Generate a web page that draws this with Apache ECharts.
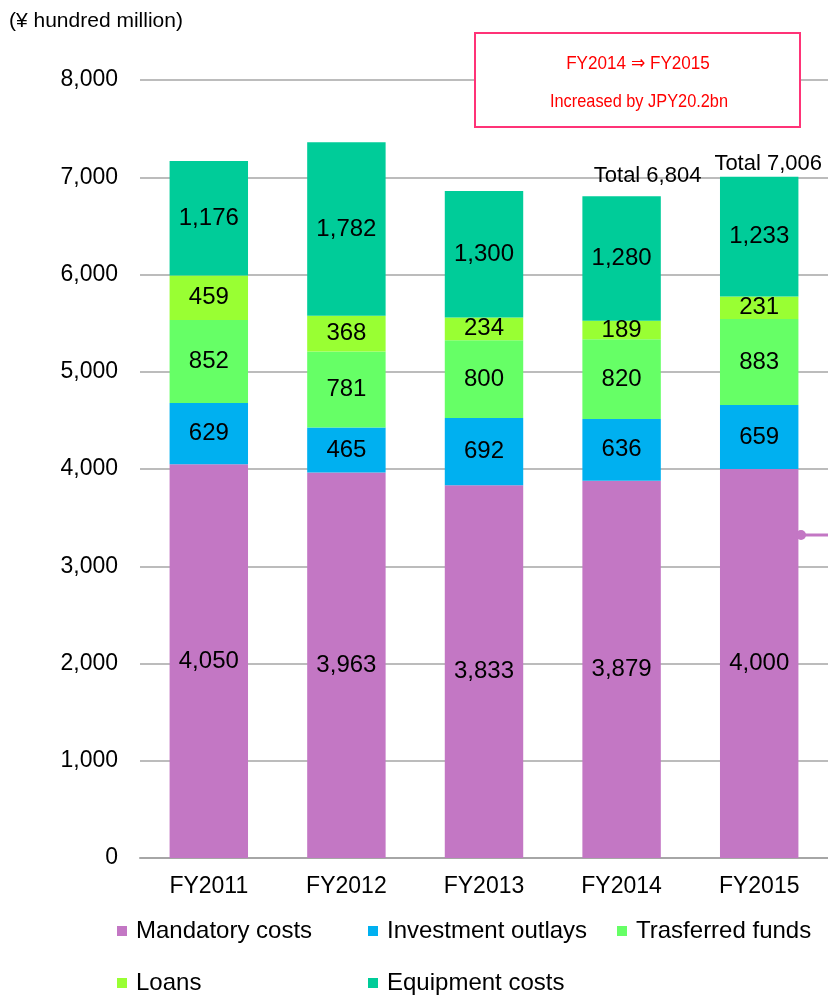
<!DOCTYPE html>
<html>
<head>
<meta charset="utf-8">
<script src="https://cdn.jsdelivr.net/npm/echarts@6/dist/echarts.min.js"></script>
<style>
  html, body { margin: 0; padding: 0; background: #fff; }
  #chart { width: 828px; height: 995px; }
</style>
</head>
<body>
<div id="chart"></div>
<script>
  // data (¥ hundred million)
  var years = ['FY2011', 'FY2012', 'FY2013', 'FY2014', 'FY2015'];
  var mandatory = [4050, 3963, 3833, 3879, 4000];
  var investment = [629, 465, 692, 636, 659];
  var transferred = [852, 781, 800, 820, 883];
  var loans = [459, 368, 234, 189, 231];
  var equipment = [1176, 1782, 1300, 1280, 1233];
  var showTotal = [false, false, false, true, true];
  var totalLabelOffset = [[0, 0], [0, 0], [0, 0], [26, -7], [9, 1]];

  var seriesNames = ['Mandatory costs', 'Investment outlays', 'Trasferred funds', 'Loans', 'Equipment costs'];
  var seriesColors = ['#C377C4', '#00B0F0', '#66FF66', '#99FF33', '#00CC99'];
  var seriesData = [mandatory, investment, transferred, loans, equipment];

  var totals = years.map(function (y, i) {
    if (!showTotal[i]) return null;
    return {
      value: mandatory[i] + investment[i] + transferred[i] + loans[i] + equipment[i],
      label: { offset: totalLabelOffset[i] }
    };
  });

  var font = 'Arial, "Liberation Sans", sans-serif';

  var chart = echarts.init(document.getElementById('chart'));

  var series = seriesData.map(function (d, k) {
    return {
      name: seriesNames[k],
      type: 'bar',
      stack: 'total',
      barWidth: '57%',
      data: d,
      itemStyle: { color: seriesColors[k] },
      label: {
        show: true,
        position: 'inside',
        color: '#000',
        fontSize: 24,
        fontFamily: font,
        formatter: function (p) { return echarts.format.addCommas(p.value); }
      },
      animation: false
    };
  });

  // total labels on top of FY2014 / FY2015
  series.push({
    name: 'Total',
    type: 'scatter',
    data: totals,
    symbolSize: 1,
    itemStyle: { color: 'rgba(0,0,0,0)', opacity: 1 },
    label: {
      show: true,
      position: 'top',
      distance: 2,
      color: '#000',
      fontSize: 22,
      fontFamily: font,
      formatter: function (p) { return 'Total ' + echarts.format.addCommas(p.value); }
    },
    silent: true,
    z: 10,
    animation: false
  });

  var legendLeft = [112, 363, 612, 112, 363];
  var legendTop = [914, 914, 914, 966, 966];
  var legends = seriesNames.map(function (n, k) {
    return {
      data: [n],
      left: legendLeft[k],
      top: legendTop[k],
      itemWidth: 10,
      itemHeight: 10,
      itemGap: 0,
      icon: 'rect',
      selectedMode: false,
      textStyle: { fontSize: 24, color: '#000', fontFamily: font, padding: [0, 0, 0, 4] }
    };
  });

  chart.setOption({
    backgroundColor: '#fff',
    animation: false,
    title: {
      text: '(¥ hundred million)',
      left: 4,
      top: 6,
      textStyle: { fontSize: 21, fontWeight: 'normal', color: '#000', fontFamily: font }
    },
    legend: legends,
    grid: { left: 140, right: -1, top: 80, bottom: 137 },
    xAxis: {
      type: 'category',
      data: years,
      axisTick: { show: false },
      axisLine: { lineStyle: { color: '#A6A6A6', width: 2 } },
      axisLabel: { color: '#000', fontSize: 23, fontFamily: font, margin: 17 }
    },
    yAxis: {
      type: 'value',
      min: 0,
      max: 8000,
      interval: 1000,
      axisLine: { show: false },
      axisTick: { show: false },
      splitLine: { lineStyle: { color: '#A6A6A6', width: 1.5 } },
      axisLabel: {
        color: '#000',
        fontSize: 23,
        fontFamily: font,
        margin: 22,
        formatter: function (v) { return echarts.format.addCommas(v); }
      }
    },
    series: series,
    graphic: [
      {
        type: 'rect',
        shape: { x: 475, y: 33, width: 325, height: 94 },
        style: { fill: '#fff', stroke: '#FF3377', lineWidth: 2 },
        z: 100
      },
      {
        type: 'text',
        x: 638, y: 64,
        scaleX: 0.9,
        style: {
          text: 'FY2014 ⇒ FY2015',
          fill: '#FF0000',
          font: '19px Arial, "Liberation Sans", sans-serif',
          align: 'center',
          verticalAlign: 'middle'
        },
        z: 101
      },
      {
        type: 'text',
        x: 639, y: 102,
        scaleX: 0.86,
        style: {
          text: 'Increased by JPY20.2bn',
          fill: '#FF0000',
          font: '19px Arial, "Liberation Sans", sans-serif',
          align: 'center',
          verticalAlign: 'middle'
        },
        z: 101
      },
      {
        type: 'line',
        shape: { x1: 800, y1: 535, x2: 830, y2: 535 },
        style: { stroke: '#C377C4', lineWidth: 3 },
        z: 100
      },
      {
        type: 'circle',
        shape: { cx: 801, cy: 535, r: 5 },
        style: { fill: '#C377C4' },
        z: 100
      }
    ]
  });
</script>
</body>
</html>
